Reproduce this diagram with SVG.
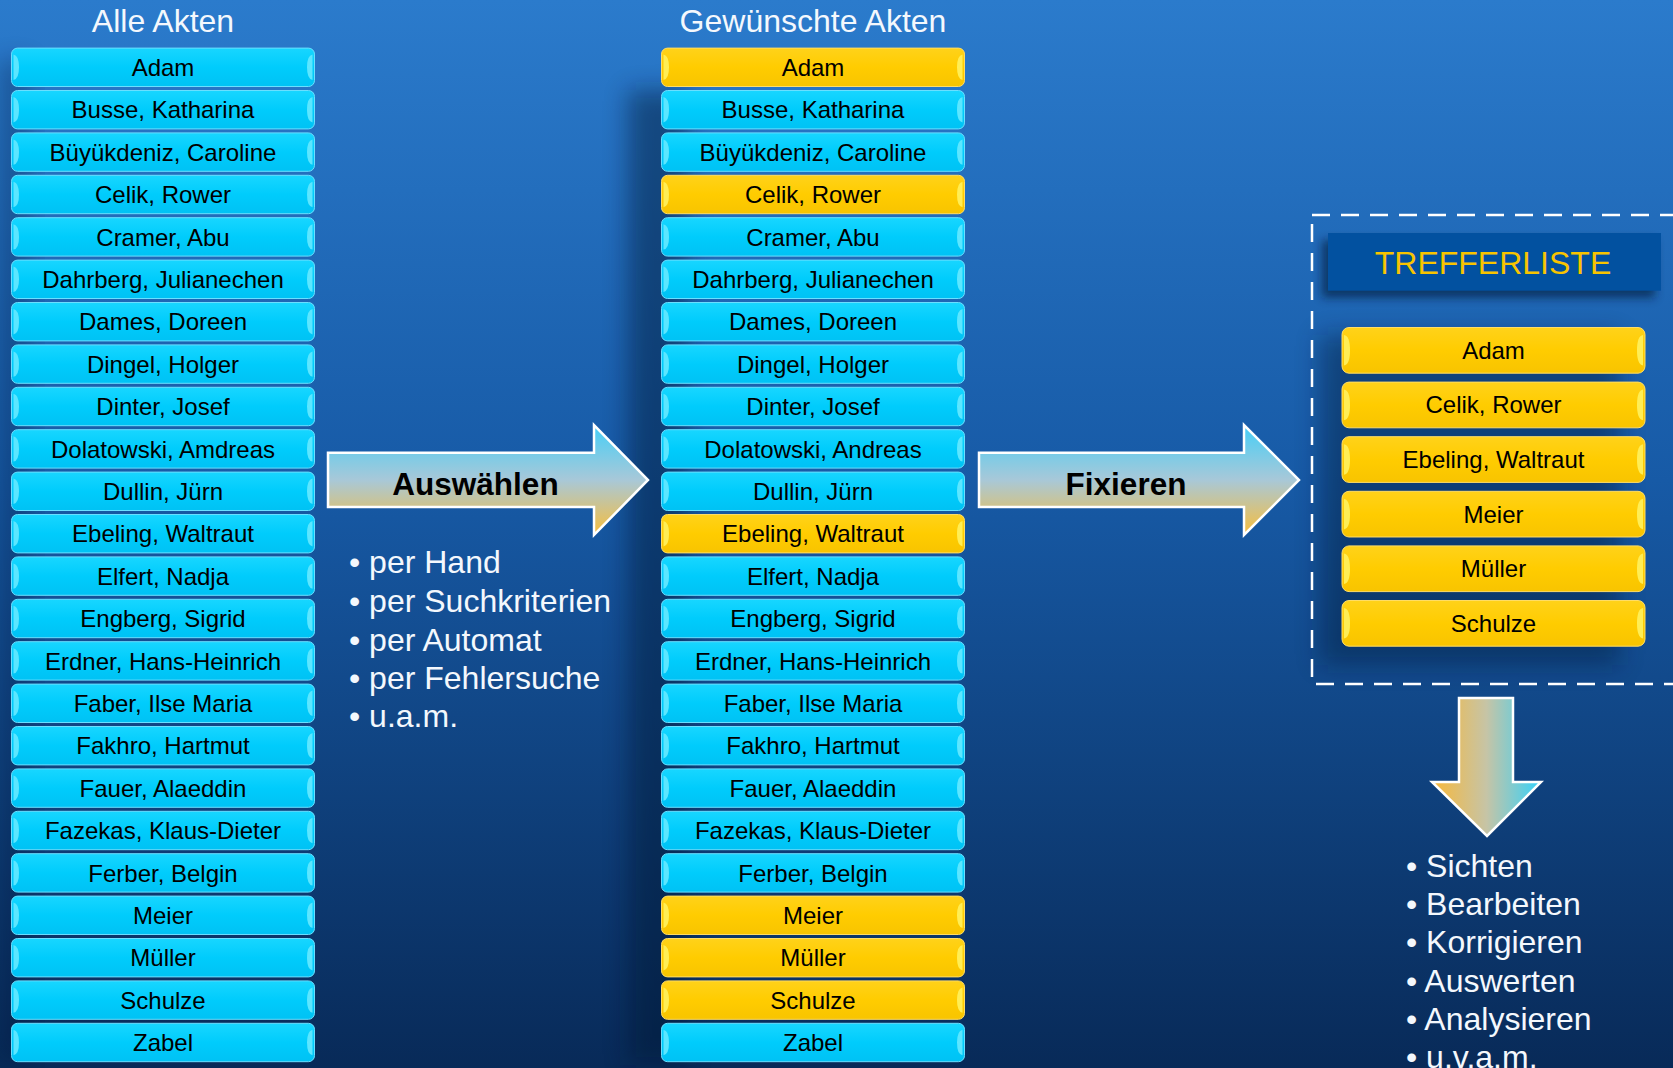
<svg xmlns="http://www.w3.org/2000/svg" xmlns:xlink="http://www.w3.org/1999/xlink" width="1673" height="1068" viewBox="0 0 1673 1068">
<defs>
<linearGradient id="bg" x1="0" y1="0" x2="0" y2="1">
<stop offset="0" stop-color="#2b7bcc"/>
<stop offset="0.45" stop-color="#175aa6"/>
<stop offset="1" stop-color="#082a58"/>
</linearGradient>
<linearGradient id="gv" x1="0" y1="0" x2="0" y2="1">
<stop offset="0" stop-color="#45cff7"/>
<stop offset="0.5" stop-color="#a8c8d8"/>
<stop offset="1" stop-color="#f8be3c"/>
</linearGradient>
<linearGradient id="gh" x1="0" y1="0" x2="1" y2="0">
<stop offset="0" stop-color="#f8b83a"/>
<stop offset="0.5" stop-color="#c6c4a6"/>
<stop offset="1" stop-color="#35d2fa"/>
</linearGradient>
<linearGradient id="cyf" x1="0" y1="0" x2="0" y2="1">
<stop offset="0" stop-color="#18d6ff"/>
<stop offset="0.5" stop-color="#00ccfc"/>
<stop offset="1" stop-color="#00c2f4"/>
</linearGradient>
<linearGradient id="yef" x1="0" y1="0" x2="0" y2="1">
<stop offset="0" stop-color="#ffd21a"/>
<stop offset="0.5" stop-color="#ffcc00"/>
<stop offset="1" stop-color="#f8c400"/>
</linearGradient>
<filter id="blur" x="-50%" y="-50%" width="200%" height="200%"><feGaussianBlur stdDeviation="12"/></filter>
<filter id="blur2" x="-50%" y="-50%" width="200%" height="200%"><feGaussianBlur stdDeviation="5"/></filter>
<g id="cy">
<rect x="0.5" y="0.5" width="303" height="38.4" rx="6" fill="url(#cyf)" stroke="#6adfff" stroke-width="1"/>
<path d="M2.5,7 Q8,8 8,19.7 Q8,31.4 2.5,32.4 Z" fill="#5ce6ff"/>
<path d="M301.5,7 Q296,8 296,19.7 Q296,31.4 301.5,32.4 Z" fill="#5ce6ff"/>
</g>
<g id="ye">
<rect x="0.5" y="0.5" width="303" height="38.4" rx="6" fill="url(#yef)" stroke="#ffdd66" stroke-width="1"/>
<path d="M2.5,7 Q8,8 8,19.7 Q8,31.4 2.5,32.4 Z" fill="#ffee55"/>
<path d="M301.5,7 Q296,8 296,19.7 Q296,31.4 301.5,32.4 Z" fill="#ffee55"/>
</g>
<g id="yb">
<rect x="0.5" y="0.5" width="303" height="45.7" rx="7" fill="url(#yef)" stroke="#ffdd66" stroke-width="1"/>
<path d="M2.5,8 Q8.5,9 8.5,23.3 Q8.5,37.6 2.5,38.6 Z" fill="#ffee55"/>
<path d="M301.5,8 Q295.5,9 295.5,23.3 Q295.5,37.6 301.5,38.6 Z" fill="#ffee55"/>
</g>
</defs>
<style>
.n{font-family:"Liberation Sans",Arial,sans-serif;font-size:24px;fill:#000;text-anchor:middle}
.h{font-family:"Liberation Sans",Arial,sans-serif;font-size:32px;fill:#f4f8fd;text-anchor:middle}
.b{font-family:"Liberation Sans",Arial,sans-serif;font-size:32px;fill:#f4f8fd}
.al{font-family:"Liberation Sans",Arial,sans-serif;font-size:31.5px;font-weight:bold;fill:#000;text-anchor:middle}
.arr{stroke:#ffffff;stroke-width:2.5}
</style>
<rect x="0" y="0" width="1673" height="1068" fill="url(#bg)"/>
<!-- shadows -->
<rect x="628" y="90" width="60" height="975" fill="#031530" opacity="0.45" filter="url(#blur)"/>
<rect x="0" y="60" width="30" height="1000" fill="#031530" opacity="0.3" filter="url(#blur)"/>
<rect x="1320" y="335" width="300" height="330" fill="#031530" opacity="0.4" filter="url(#blur)"/>
<rect x="1322" y="240" width="333" height="57.7" fill="#031530" opacity="0.6" filter="url(#blur2)"/>

<text class="h" x="163" y="32">Alle Akten</text>
<text class="h" x="813" y="32">Gewünschte Akten</text>

<g id="col-alle">
<g id="a01"><use xlink:href="#cy" x="11" y="47.6"/><text class="n" x="163" y="75.9">Adam</text></g>
<g id="a02"><use xlink:href="#cy" x="11" y="90"/><text class="n" x="163" y="118.3">Busse, Katharina</text></g>
<g id="a03"><use xlink:href="#cy" x="11" y="132.4"/><text class="n" x="163" y="160.7">Büyükdeniz, Caroline</text></g>
<g id="a04"><use xlink:href="#cy" x="11" y="174.8"/><text class="n" x="163" y="203.1">Celik, Rower</text></g>
<g id="a05"><use xlink:href="#cy" x="11" y="217.2"/><text class="n" x="163" y="245.5">Cramer, Abu</text></g>
<g id="a06"><use xlink:href="#cy" x="11" y="259.6"/><text class="n" x="163" y="287.9">Dahrberg, Julianechen</text></g>
<g id="a07"><use xlink:href="#cy" x="11" y="302"/><text class="n" x="163" y="330.3">Dames, Doreen</text></g>
<g id="a08"><use xlink:href="#cy" x="11" y="344.4"/><text class="n" x="163" y="372.7">Dingel, Holger</text></g>
<g id="a09"><use xlink:href="#cy" x="11" y="386.8"/><text class="n" x="163" y="415.1">Dinter, Josef</text></g>
<g id="a10"><use xlink:href="#cy" x="11" y="429.2"/><text class="n" x="163" y="457.5">Dolatowski, Amdreas</text></g>
<g id="a11"><use xlink:href="#cy" x="11" y="471.6"/><text class="n" x="163" y="499.9">Dullin, Jürn</text></g>
<g id="a12"><use xlink:href="#cy" x="11" y="514"/><text class="n" x="163" y="542.3">Ebeling, Waltraut</text></g>
<g id="a13"><use xlink:href="#cy" x="11" y="556.4"/><text class="n" x="163" y="584.7">Elfert, Nadja</text></g>
<g id="a14"><use xlink:href="#cy" x="11" y="598.8"/><text class="n" x="163" y="627.1">Engberg, Sigrid</text></g>
<g id="a15"><use xlink:href="#cy" x="11" y="641.2"/><text class="n" x="163" y="669.5">Erdner, Hans-Heinrich</text></g>
<g id="a16"><use xlink:href="#cy" x="11" y="683.6"/><text class="n" x="163" y="711.9">Faber, Ilse Maria</text></g>
<g id="a17"><use xlink:href="#cy" x="11" y="726"/><text class="n" x="163" y="754.3">Fakhro, Hartmut</text></g>
<g id="a18"><use xlink:href="#cy" x="11" y="768.4"/><text class="n" x="163" y="796.7">Fauer, Alaeddin</text></g>
<g id="a19"><use xlink:href="#cy" x="11" y="810.8"/><text class="n" x="163" y="839.1">Fazekas, Klaus-Dieter</text></g>
<g id="a20"><use xlink:href="#cy" x="11" y="853.2"/><text class="n" x="163" y="881.5">Ferber, Belgin</text></g>
<g id="a21"><use xlink:href="#cy" x="11" y="895.6"/><text class="n" x="163" y="923.9">Meier</text></g>
<g id="a22"><use xlink:href="#cy" x="11" y="938"/><text class="n" x="163" y="966.3">Müller</text></g>
<g id="a23"><use xlink:href="#cy" x="11" y="980.4"/><text class="n" x="163" y="1008.7">Schulze</text></g>
<g id="a24"><use xlink:href="#cy" x="11" y="1022.8"/><text class="n" x="163" y="1051.1">Zabel</text></g>
</g>

<g id="col-gewuenscht">
<g id="g01"><use xlink:href="#ye" x="661" y="47.6"/><text class="n" x="813" y="75.9">Adam</text></g>
<g id="g02"><use xlink:href="#cy" x="661" y="90"/><text class="n" x="813" y="118.3">Busse, Katharina</text></g>
<g id="g03"><use xlink:href="#cy" x="661" y="132.4"/><text class="n" x="813" y="160.7">Büyükdeniz, Caroline</text></g>
<g id="g04"><use xlink:href="#ye" x="661" y="174.8"/><text class="n" x="813" y="203.1">Celik, Rower</text></g>
<g id="g05"><use xlink:href="#cy" x="661" y="217.2"/><text class="n" x="813" y="245.5">Cramer, Abu</text></g>
<g id="g06"><use xlink:href="#cy" x="661" y="259.6"/><text class="n" x="813" y="287.9">Dahrberg, Julianechen</text></g>
<g id="g07"><use xlink:href="#cy" x="661" y="302"/><text class="n" x="813" y="330.3">Dames, Doreen</text></g>
<g id="g08"><use xlink:href="#cy" x="661" y="344.4"/><text class="n" x="813" y="372.7">Dingel, Holger</text></g>
<g id="g09"><use xlink:href="#cy" x="661" y="386.8"/><text class="n" x="813" y="415.1">Dinter, Josef</text></g>
<g id="g10"><use xlink:href="#cy" x="661" y="429.2"/><text class="n" x="813" y="457.5">Dolatowski, Andreas</text></g>
<g id="g11"><use xlink:href="#cy" x="661" y="471.6"/><text class="n" x="813" y="499.9">Dullin, Jürn</text></g>
<g id="g12"><use xlink:href="#ye" x="661" y="514"/><text class="n" x="813" y="542.3">Ebeling, Waltraut</text></g>
<g id="g13"><use xlink:href="#cy" x="661" y="556.4"/><text class="n" x="813" y="584.7">Elfert, Nadja</text></g>
<g id="g14"><use xlink:href="#cy" x="661" y="598.8"/><text class="n" x="813" y="627.1">Engberg, Sigrid</text></g>
<g id="g15"><use xlink:href="#cy" x="661" y="641.2"/><text class="n" x="813" y="669.5">Erdner, Hans-Heinrich</text></g>
<g id="g16"><use xlink:href="#cy" x="661" y="683.6"/><text class="n" x="813" y="711.9">Faber, Ilse Maria</text></g>
<g id="g17"><use xlink:href="#cy" x="661" y="726"/><text class="n" x="813" y="754.3">Fakhro, Hartmut</text></g>
<g id="g18"><use xlink:href="#cy" x="661" y="768.4"/><text class="n" x="813" y="796.7">Fauer, Alaeddin</text></g>
<g id="g19"><use xlink:href="#cy" x="661" y="810.8"/><text class="n" x="813" y="839.1">Fazekas, Klaus-Dieter</text></g>
<g id="g20"><use xlink:href="#cy" x="661" y="853.2"/><text class="n" x="813" y="881.5">Ferber, Belgin</text></g>
<g id="g21"><use xlink:href="#ye" x="661" y="895.6"/><text class="n" x="813" y="923.9">Meier</text></g>
<g id="g22"><use xlink:href="#ye" x="661" y="938"/><text class="n" x="813" y="966.3">Müller</text></g>
<g id="g23"><use xlink:href="#ye" x="661" y="980.4"/><text class="n" x="813" y="1008.7">Schulze</text></g>
<g id="g24"><use xlink:href="#cy" x="661" y="1022.8"/><text class="n" x="813" y="1051.1">Zabel</text></g>
</g>

<g id="trefferliste">
<rect x="1312" y="215" width="400" height="469" fill="none" stroke="#ffffff" stroke-width="2.5" stroke-dasharray="18 11"/>
<g id="t-title"><rect x="1328" y="233" width="333" height="57.7" fill="#0251a0"/><text x="1493" y="274" style="font-family:'Liberation Sans',Arial,sans-serif;font-size:32px;fill:#f8c400;text-anchor:middle">TREFFERLISTE</text></g>
<g id="t1"><use xlink:href="#yb" x="1341.5" y="327"/><text class="n" x="1493.5" y="358.7">Adam</text></g>
<g id="t2"><use xlink:href="#yb" x="1341.5" y="381.6"/><text class="n" x="1493.5" y="413.3">Celik, Rower</text></g>
<g id="t3"><use xlink:href="#yb" x="1341.5" y="436.2"/><text class="n" x="1493.5" y="467.9">Ebeling, Waltraut</text></g>
<g id="t4"><use xlink:href="#yb" x="1341.5" y="490.8"/><text class="n" x="1493.5" y="522.5">Meier</text></g>
<g id="t5"><use xlink:href="#yb" x="1341.5" y="545.4"/><text class="n" x="1493.5" y="577.1">Müller</text></g>
<g id="t6"><use xlink:href="#yb" x="1341.5" y="600"/><text class="n" x="1493.5" y="631.7">Schulze</text></g>
</g>

<g id="connectors">
<g id="arrow-auswaehlen"><path class="arr" d="M328,452.7 H594 V425 L648,480 L594,535 V507 H328 Z" fill="url(#gv)"/><text class="al" x="475.5" y="495">Auswählen</text></g>
<g id="arrow-fixieren"><path class="arr" d="M979,452.7 H1244 V425 L1299,480 L1244,535 V507 H979 Z" fill="url(#gv)"/><text class="al" x="1126" y="495">Fixieren</text></g>
<g id="arrow-down"><path class="arr" d="M1459,698 H1513 V782 H1541 L1487,836 L1432,782 H1459 Z" fill="url(#gh)"/></g>
</g>

<g id="bullets-auswahl">
<text class="b" x="349" y="573">• per Hand</text>
<text class="b" x="349" y="612">• per Suchkriterien</text>
<text class="b" x="349" y="651">• per Automat</text>
<text class="b" x="349" y="689">• per Fehlersuche</text>
<text class="b" x="349" y="727">• u.a.m.</text>
</g>
<g id="bullets-treffer">
<text class="b" x="1406" y="877">• Sichten</text>
<text class="b" x="1406" y="915">• Bearbeiten</text>
<text class="b" x="1406" y="953">• Korrigieren</text>
<text class="b" x="1406" y="992">• Auswerten</text>
<text class="b" x="1406" y="1030">• Analysieren</text>
<text class="b" x="1406" y="1068">• u.v.a.m.</text>
</g>
</svg>
